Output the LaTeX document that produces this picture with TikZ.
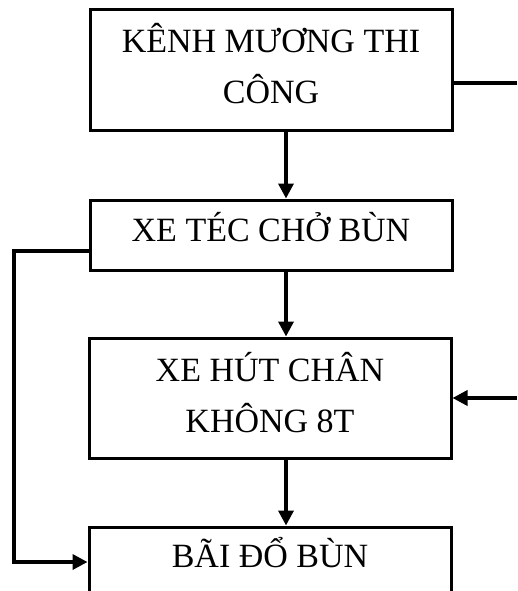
\documentclass[tikz,border=0pt]{standalone}
\usepackage{fontspec}
\setmainfont{Liberation Serif}
\usetikzlibrary{arrows.meta}
\tikzset{
  stagebox/.style={draw, line width=3pt, minimum width=362pt, align=center,
    font=\fontsize{34}{51}\selectfont, inner sep=0pt},
}
\begin{document}
\begin{tikzpicture}[x=1pt,y=-1pt]
      \useasboundingbox (0,0) rectangle (517,591);
      \draw
        (271,70) node[stagebox, minimum height=120pt, text depth=14pt] (kenh){KÊNH MƯƠNG THI\\CÔNG}
        (271,235) node[stagebox, minimum height=70pt, text height=22pt, text depth=10pt] (xetec){XE TÉC CHỞ BÙN}
        (270,398) node[stagebox, minimum height=120pt, text depth=12pt] (xehut){XE HÚT CHÂN\\KHÔNG 8T}
        (270,562) node[stagebox, minimum height=70pt, text height=22pt, text depth=12pt] (bai){BÃI ĐỔ BÙN};
      \coordinate (kr) at (517,83);
      \coordinate (hr) at (517,398);
      \coordinate (lc) at (14,400);
      \begin{scope}[line width=3.5pt, -{Triangle[length=15pt,width=15pt]}]
        \draw ([xshift=15pt]kenh.south) to ([xshift=15pt]xetec.north);
        \draw ([xshift=15pt]xetec.south) to ([xshift=16pt]xehut.north);
        \draw ([xshift=16pt]xehut.south) to ([xshift=16pt]bai.north);
        \draw (hr) to (xehut.east);
        \draw ([yshift=-16pt]xetec.west) -| (lc) |- (bai.west);
      \end{scope}
      \draw[line width=3.5pt] ([yshift=-13pt]kenh.east) -- (kr);
    \end{tikzpicture}
\end{document}
